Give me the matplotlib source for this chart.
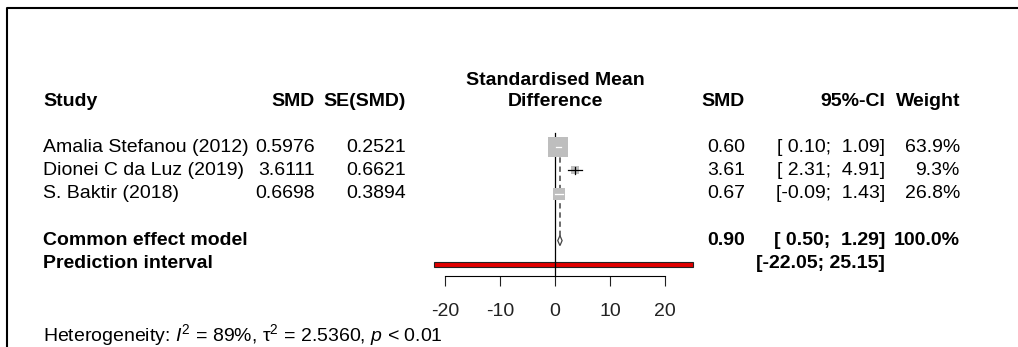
import matplotlib
matplotlib.use("Agg")
import matplotlib.pyplot as plt
from matplotlib.patches import Rectangle, Polygon
import numpy as np

# ---------------- data ----------------
studies = ["Amalia Stefanou (2012)", "Dionei C da Luz (2019)", "S. Baktir (2018)"]
smd = [0.5976, 3.6111, 0.6698]
se_smd = [0.2521, 0.6621, 0.3894]
ci_lower = [0.10, 2.31, -0.09]
ci_upper = [1.09, 4.91, 1.43]
weights = [63.9, 9.3, 26.8]
common_smd = 0.90
common_lower = 0.50
common_upper = 1.29
common_weight = 100.0
pi_lower = -22.05
pi_upper = 25.15
x_ticks = [-20, -10, 0, 10, 20]
i2_pct = 89
tau2 = 2.5360
p_text = "< 0.01"

# ---------------- style ----------------
plt.rcParams["font.family"] = ["Liberation Sans", "DejaVu Sans"]
plt.rcParams["mathtext.fontset"] = "custom"
plt.rcParams["mathtext.rm"] = "Liberation Sans"
plt.rcParams["mathtext.it"] = "Liberation Sans:italic"
plt.rcParams["mathtext.bf"] = "Liberation Sans:bold"
FS = 14
W, H = 1018, 347
fig = plt.figure(figsize=(W / 100, H / 100), dpi=100)

# background axes in pixel coordinates (for text layout)
bg = fig.add_axes([0, 0, 1, 1])
bg.set_xlim(0, W)
bg.set_ylim(H, 0)
bg.axis("off")

# frame (top and left border)
bg.plot([7.5, 7.5, W], [H, 7.5, 7.5], color="black", lw=1.5, solid_capstyle="butt")

# layout
row0, step = 147, 23.4
row_y = [row0 + i * step for i in range(len(studies))]
sum_y = row0 + 4 * step
pi_y = row0 + 5 * step
head_y = 101
axis_y = 276

x_study = 43
x_smd = 315
x_se = 406
x_mid = 555
x_smd2 = 745
x_ci = 885
x_w = 960

bold = dict(fontweight="bold", fontsize=FS, va="center")
norm = dict(fontsize=FS, va="center")

# headers
bg.text(x_study, head_y, "Study", ha="left", **bold)
bg.text(x_smd, head_y, "SMD", ha="right", **bold)
bg.text(x_se, head_y, "SE(SMD)", ha="right", **bold)
bg.text(x_mid, 80, "Standardised Mean", ha="center", **bold)
bg.text(x_mid, head_y, "Difference", ha="center", **bold)
bg.text(x_smd2, head_y, "SMD", ha="right", **bold)
bg.text(x_ci, head_y, "95%-CI", ha="right", **bold)
bg.text(x_w, head_y, "Weight", ha="right", **bold)


def ci_str(lo, hi):
    return f"[{lo:5.2f}; {hi:5.2f}]"


for i, name in enumerate(studies):
    y = row_y[i]
    bg.text(x_study, y, name, ha="left", **norm)
    bg.text(x_smd, y, f"{smd[i]:.4f}", ha="right", **norm)
    bg.text(x_se, y, f"{se_smd[i]:.4f}", ha="right", **norm)
    bg.text(x_smd2, y, f"{smd[i]:.2f}", ha="right", **norm)
    bg.text(x_ci, y, ci_str(ci_lower[i], ci_upper[i]), ha="right", **norm)
    bg.text(x_w, y, f"{weights[i]:.1f}%", ha="right", **norm)

bg.text(x_study, sum_y, "Common effect model", ha="left", **bold)
bg.text(x_smd2, sum_y, f"{common_smd:.2f}", ha="right", **bold)
bg.text(x_ci, sum_y, ci_str(common_lower, common_upper), ha="right", **bold)
bg.text(x_w, sum_y, f"{common_weight:.1f}%", ha="right", **bold)
bg.text(x_study, pi_y, "Prediction interval", ha="left", **bold)
bg.text(x_ci, pi_y, ci_str(pi_lower, pi_upper), ha="right", **bold)

bg.text(x_study, 335,
        f"Heterogeneity: $I^2$ = {i2_pct}%, τ$^2$ = {tau2:.4f}, $p$ {p_text}",
        ha="left", **norm)

# ---------------- forest axes ----------------
px_per_unit = 5.5
ax_left_px, ax_right_px = 420, 710
ax = fig.add_axes([ax_left_px / W, 0, (ax_right_px - ax_left_px) / W, 1])
ax.set_xlim((ax_left_px - x_mid) / px_per_unit, (ax_right_px - x_mid) / px_per_unit)
ax.set_ylim(H, 0)
ax.patch.set_alpha(0)
for s in ["top", "left", "right"]:
    ax.spines[s].set_visible(False)
ax.spines["bottom"].set_position(("data", axis_y))
ax.spines["bottom"].set_bounds(min(x_ticks), max(x_ticks))
ax.spines["bottom"].set_linewidth(0.8)
ax.set_yticks([])
ax.set_xticks(x_ticks)
ax.set_xticklabels([str(t) for t in x_ticks], fontsize=FS)
ax.tick_params(axis="x", direction="out", length=7.5, width=0.8, pad=12, colors="#222222")

# prediction interval bar
ax.add_patch(Rectangle((pi_lower, pi_y - 2.5), pi_upper - pi_lower, 5,
                       facecolor="#E00000", edgecolor="#222222", lw=0.8, zorder=2))

# line of no effect
ax.plot([0, 0], [133, axis_y], color="black", lw=0.9, zorder=3)

# common effect dashed line
ax.plot([common_smd, common_smd], [row_y[0] - 8, sum_y - 5], color="#444444",
        lw=1.1, dashes=(3.5, 2.5), zorder=3)

# study squares and CIs
max_side = 19.5
for i in range(len(studies)):
    side = max_side * np.sqrt(weights[i] / max(weights))
    half_w = side / 2 / px_per_unit
    y = row_y[i]
    ax.plot([smd[i]], [y], marker="s", markersize=side * 0.72,
            color="#BEBEBE", markeredgewidth=0, zorder=4)
    inside = (smd[i] - half_w <= ci_lower[i]) and (ci_upper[i] <= smd[i] + half_w)
    col = "white" if inside else "black"
    ax.plot([ci_lower[i], ci_upper[i]], [y, y], color=col, lw=0.9, zorder=5)
    if not inside:
        ax.plot([smd[i], smd[i]], [y - 3.5, y + 3.5], color="black", lw=0.9, zorder=5)

# diamond
dh = 5
ax.add_patch(Polygon([(common_lower, sum_y), (common_smd, sum_y - dh),
                      (common_upper, sum_y), (common_smd, sum_y + dh)],
                     closed=True, facecolor="white", edgecolor="#444444", lw=0.9, zorder=5))

fig.savefig("out.png", dpi=100)
